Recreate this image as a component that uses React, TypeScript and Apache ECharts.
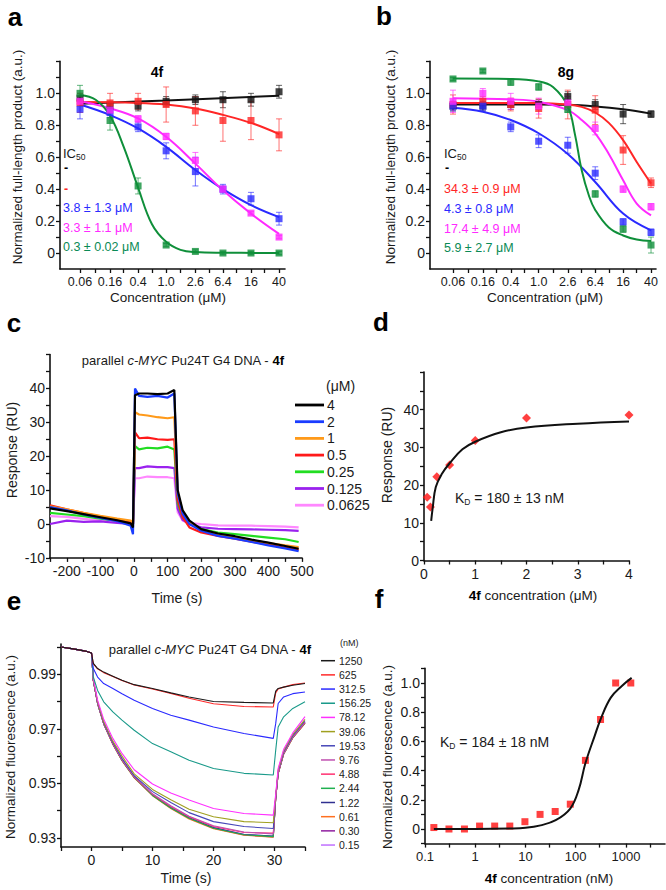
import React, { useEffect, useRef } from 'react';
import * as echarts from 'echarts';

const FONT = '"Liberation Sans", Arial, Helvetica, sans-serif';
const AX = '#111111';
const TXT = '#1a1a1a';

// ---------- panels a & b (shared concentrations) ----------
const CONC_AB = [0.06, 0.16, 0.4, 1.0, 2.6, 6.4, 16, 40];
const CONC_AB_LABELS = ['0.06', '0.16', '0.4', '1.0', '2.6', '6.4', '16', '40'];
const AB_TICKS = [0.06, 0.1, 0.16, 0.25, 0.4, 0.63, 1, 1.6, 2.6, 4.1, 6.4, 10, 16, 25, 40];
const AB_Y_LABELS = [0, 0.2, 0.4, 0.6, 0.8, 1.0];
const AB_Y_TICKS = [0, 0.1, 0.2, 0.3, 0.4, 0.5, 0.6, 0.7, 0.8, 0.9, 1.0, 1.1, 1.2];

const A_BLACK = [0.97, 0.92, 0.92, 0.95, 0.96, 0.96, 0.96, 1.01];
const A_RED = [0.94, 0.94, 0.95, 0.93, 0.89, 0.83, 0.83, 0.74];
const A_BLUE = [0.9, 0.88, 0.79, 0.64, 0.51, 0.4, 0.34, 0.215];
const A_MAG = [0.95, 0.895, 0.84, 0.73, 0.58, 0.4, 0.25, 0.1];
const A_GREEN = [1.0, 0.83, 0.42, 0.05, 0.01, 0.0, 0.0, 0.0];
const A_BLACK_ERR = [0.03, 0.03, 0.03, 0.03, 0.03, 0.05, 0.04, 0.04];
const A_RED_ERR = [0.06, 0.06, 0.05, 0.11, 0.09, 0.13, 0.12, 0.1];
const A_BLUE_ERR = [0.06, 0.03, 0.03, 0.05, 0.09, 0.03, 0.04, 0.04];
const A_MAG_ERR = [0.03, 0.02, 0.02, 0.02, 0.05, 0.02, 0.01, 0.01];
const A_GREEN_ERR = [0.05, 0.06, 0.05, 0.01, 0.01, 0.01, 0.01, 0.01];
const A_BLACK_FIT = [[0.06, 0.935], [1, 0.955], [40, 0.985]];
const A_RED_FIT = [[0.06, 0.945], [0.4, 0.94], [1, 0.93], [2.6, 0.905], [6.4, 0.865], [16, 0.815], [40, 0.745]];
const A_BLUE_FIT = [[0.06, 0.93], [0.16, 0.864], [0.4, 0.78], [1, 0.665], [2.6, 0.52], [6.4, 0.4], [16, 0.3], [40, 0.225]];
const A_MAG_FIT = [[0.06, 0.95], [0.16, 0.906], [0.4, 0.843], [1, 0.728], [2.6, 0.56], [6.4, 0.393], [16, 0.247], [40, 0.12]];
const A_GREEN_FIT = [[0.06, 0.99], [0.1, 0.96], [0.16, 0.86], [0.25, 0.665], [0.4, 0.41], [0.63, 0.18], [1, 0.07], [1.6, 0.02], [2.6, 0.006], [6.4, 0.002], [40, 0.0]];

const B_BLACK = [0.92, 0.92, 0.93, 0.93, 0.98, 0.93, 0.87, 0.87];
const B_RED = [0.93, 0.95, 0.93, 0.905, 0.93, 0.895, 0.645, 0.44];
const B_BLUE = [0.92, 0.92, 0.79, 0.7, 0.675, 0.5, 0.195, 0.13];
const B_MAG = [0.95, 1.0, 0.95, 0.92, 0.94, 0.78, 0.4, 0.29];
const B_GREEN = [1.09, 1.14, 1.07, 1.04, 0.9, 0.37, 0.15, 0.05];
const B_BLACK_ERR = [0.03, 0.03, 0.03, 0.03, 0.03, 0.03, 0.06, 0.02];
const B_RED_ERR = [0.06, 0.03, 0.04, 0.06, 0.09, 0.09, 0.09, 0.03];
const B_BLUE_ERR = [0.03, 0.03, 0.03, 0.04, 0.05, 0.04, 0.02, 0.02];
const B_MAG_ERR = [0.07, 0.03, 0.05, 0.05, 0.04, 0.04, 0.02, 0.02];
const B_GREEN_ERR = [0.01, 0.01, 0.02, 0.02, 0.02, 0.02, 0.02, 0.05];
const B_BLACK_FIT = [[0.06, 0.93], [1, 0.93], [2.6, 0.928], [6.4, 0.918], [16, 0.9], [40, 0.873]];
const B_RED_FIT = [[0.06, 0.94], [1, 0.94], [2.6, 0.93], [4.1, 0.915], [6.4, 0.88], [10, 0.815], [16, 0.707], [25, 0.57], [40, 0.435]];
const B_BLUE_FIT = [[0.06, 0.91], [0.16, 0.885], [0.4, 0.833], [1, 0.75], [2.6, 0.62], [6.4, 0.445], [16, 0.247], [40, 0.142]];
const B_MAG_FIT = [[0.06, 0.97], [0.4, 0.962], [1, 0.948], [2.6, 0.895], [4.1, 0.833], [6.4, 0.75], [10, 0.62], [16, 0.456], [25, 0.31], [40, 0.236]];
const B_GREEN_FIT = [[0.06, 1.093], [0.4, 1.09], [1, 1.075], [1.6, 1.04], [2.6, 0.92], [3.3, 0.74], [4.1, 0.52], [5.2, 0.36], [6.4, 0.27], [10, 0.16], [16, 0.11], [25, 0.085], [40, 0.075]];

// ---------- panel c (SPR sensorgrams) ----------
const C_TIME = [-250, -200, -150, -100, -50, -10, -3, 3, 15, 40, 70, 100, 120, 130, 145, 165, 200, 250, 300, 350, 400, 450, 490];
const C_4 = [4.6, 3.8, 2.9, 2.0, 1.1, 0.2, -1, 38, 38.5, 38.5, 38.3, 38.5, 39.5, 10, 4, 1, -1.5, -2.8, -3.6, -4.6, -5.5, -6.5, -7.3];
const C_2 = [5, 4, 2.8, 1.8, 0.8, -0.5, -3, 40, 37.8, 37.5, 37.8, 37.3, 38.5, 9, 3, 0, -2, -3.5, -4.3, -5.3, -6.3, -7.2, -8];
const C_1 = [5.2, 4.3, 3.3, 2.4, 1.6, 1, 0.5, 33, 32.3, 32, 31.5, 31.2, 31.5, 9, 3.5, 0.5, -1.8, -3, -3.8, -4.8, -5.6, -6.3, -6.8];
const C_05 = [5.5, 4.3, 3.2, 2.2, 1.3, 0.5, 0, 27, 25.3, 25.5, 25, 24.8, 25, 7, 2, -1, -2.5, -3.5, -4.3, -5.2, -6, -7, -7.5];
const C_025 = [3.3, 2.8, 2.3, 1.6, 1, 0.5, 0, 23, 22, 22.5, 22.3, 22.8, 22, 6, 2, 0, -1.5, -2.5, -3, -3.5, -4, -4.5, -5.3];
const C_0125 = [0, 1, 0.6, 0.8, 0.3, 0, 0, 16.5, 16.5, 17, 16.8, 16.8, 16.5, 4.5, 1.2, 0, -1, -1.4, -1.5, -1.6, -1.7, -1.8, -2];
const C_00625 = [2.3, 2.1, 1.5, 1, 0.6, 0.2, 0, 13.5, 13.5, 14, 13.8, 13.8, 13.5, 3.5, 1, 0.3, 0, -0.4, -0.5, -0.5, -0.6, -0.8, -1];
const C_LABELS = ['4', '2', '1', '0.5', '0.25', '0.125', '0.0625'];
const C_COLORS = ['#000000', '#1a3cff', '#ff9a1a', '#ff1a1a', '#22dd22', '#9a22ee', '#ff88ff'];

// ---------- panel d ----------
const D_CONC = [0.0625, 0.125, 0.25, 0.5, 1, 2, 4];
const D_RESP = [16.8, 14.2, 22.2, 25.3, 31.8, 37.8, 38.6];
const D_FIT = [[0.14, 10.5], [0.17, 14], [0.23, 19.5], [0.35, 23], [0.5, 25.8], [0.75, 29.5], [1, 31.5], [1.5, 34], [2, 35.3], [3, 36.3], [4, 36.9]];

// ---------- panel e (fluorescence kinetics) ----------
const E_TIME = [-5, -3, -1, 0, 0.3, 1, 2, 3.5, 5, 7, 10, 13, 16, 20, 25, 29.8, 30.2, 30.6, 31.5, 33, 35];
const E_BASE = [1.0, 0.9993, 0.9985, 0.9978];
const E_1250 = [0.994, 0.9921, 0.9908, 0.9893, 0.9878, 0.9862, 0.9848, 0.9832, 0.9817, 0.98, 0.9797, 0.9795, 0.9838, 0.9848, 0.9853, 0.986, 0.9866];
const E_625 = [0.9938, 0.992, 0.9906, 0.9892, 0.9877, 0.9861, 0.9846, 0.983, 0.9812, 0.9792, 0.9782, 0.978, 0.9832, 0.9846, 0.9853, 0.9862, 0.9868];
const E_312 = [0.9921, 0.989, 0.9866, 0.9848, 0.9829, 0.9805, 0.9775, 0.975, 0.9732, 0.9707, 0.9683, 0.9665, 0.972, 0.9793, 0.9817, 0.9829, 0.9835];
const E_156 = [0.989, 0.9841, 0.9799, 0.9762, 0.9732, 0.9695, 0.9646, 0.9616, 0.9585, 0.9555, 0.9537, 0.9531, 0.9622, 0.9707, 0.9744, 0.9775, 0.9799];
const E_78 = [0.9885, 0.9805, 0.9735, 0.9665, 0.961, 0.955, 0.9498, 0.9465, 0.9439, 0.9408, 0.939, 0.9384, 0.946, 0.9555, 0.9625, 0.9685, 0.9745];
const E_39 = [0.988, 0.98, 0.9727, 0.9655, 0.96, 0.9535, 0.9478, 0.944, 0.9405, 0.9378, 0.936, 0.9356, 0.9455, 0.955, 0.962, 0.968, 0.9735];
const E_19 = [0.9878, 0.9796, 0.9722, 0.965, 0.9592, 0.9528, 0.947, 0.943, 0.9393, 0.936, 0.9342, 0.9335, 0.945, 0.9545, 0.9615, 0.9675, 0.973];
const E_9 = [0.9878, 0.9793, 0.972, 0.9646, 0.9587, 0.9525, 0.9462, 0.9418, 0.938, 0.9345, 0.9322, 0.9315, 0.9448, 0.954, 0.961, 0.967, 0.9725];
const E_4 = [0.9877, 0.9793, 0.9719, 0.9645, 0.9586, 0.9524, 0.946, 0.9415, 0.9378, 0.9342, 0.932, 0.9318, 0.9448, 0.9538, 0.961, 0.967, 0.9723];
const E_2 = [0.9877, 0.9792, 0.9718, 0.9644, 0.9584, 0.9522, 0.9456, 0.941, 0.9372, 0.9336, 0.9312, 0.9305, 0.9447, 0.9537, 0.9608, 0.9668, 0.9722];
const E_1 = [0.9878, 0.9793, 0.9719, 0.9645, 0.9585, 0.9523, 0.9458, 0.9412, 0.9374, 0.9338, 0.9313, 0.9307, 0.9447, 0.9537, 0.961, 0.967, 0.9724];
const E_06 = [0.9877, 0.9792, 0.9718, 0.9643, 0.9583, 0.952, 0.9455, 0.9408, 0.937, 0.9334, 0.931, 0.9303, 0.9445, 0.9535, 0.9607, 0.9667, 0.972];
const E_03 = [0.9878, 0.9794, 0.972, 0.9646, 0.9585, 0.9523, 0.9457, 0.941, 0.9372, 0.9336, 0.9311, 0.9304, 0.9446, 0.9536, 0.9608, 0.9668, 0.9721];
const E_015 = [0.9879, 0.9795, 0.9721, 0.9647, 0.9587, 0.9525, 0.946, 0.9413, 0.9375, 0.9339, 0.9314, 0.9306, 0.9446, 0.9537, 0.9609, 0.967, 0.9722];
const E_LABELS = ['1250', '625', '312.5', '156.25', '78.12', '39.06', '19.53', '9.76', '4.88', '2.44', '1.22', '0.61', '0.30', '0.15'];
const E_COLORS = ['#1a1a1a', '#ff2a2a', '#2a2aff', '#1a9a8a', '#ff30ff', '#a0a020', '#4848b8', '#c050b0', '#ff3070', '#20b050', '#303090', '#ff7020', '#9020a0', '#c070ff'];

// ---------- panel f ----------
const F_CONC = [0.15, 0.3, 0.61, 1.22, 2.44, 4.88, 9.76, 19.53, 39.06, 78.12, 156.25, 312.5, 625, 1250];
const F_VAL = [0.01, 0.0, 0.0, 0.02, 0.02, 0.02, 0.05, 0.1, 0.12, 0.17, 0.47, 0.75, 1.0, 1.0];
const F_FIT = [[0.15, 0.0], [1, 0.0], [5, 0.003], [10, 0.008], [20, 0.025], [40, 0.06], [78, 0.14], [115, 0.27], [156, 0.45], [240, 0.64], [320, 0.76], [500, 0.9], [830, 0.98], [1300, 1.035]];

const BLACK = '#111111';
const RED = '#ff2626';
const BLUE = '#2a2aff';
const MAG = '#ff2aff';
const GREEN = '#0f8f3a';

function mkAxis(gridIndex: number, type: string, min: number, max: number, ticks: number[], labels: number[], fmt: (v: number) => string, fontSize = 14, margin = 5) {
  const ax: any = {
    type, gridIndex, min, max,
    axisLine: { show: true, onZero: false, lineStyle: { color: AX, width: 1.6 } },
    axisTick: { show: true, customValues: ticks, length: 4, lineStyle: { color: AX, width: 1.3 } },
    axisLabel: { show: true, customValues: labels, formatter: fmt, color: TXT, fontFamily: FONT, fontSize, margin },
    splitLine: { show: false },
  };
  if (type === 'log') ax.logBase = 10;
  return ax;
}

const fmtAB = (v: number) => {
  for (let i = 0; i < CONC_AB.length; i++) {
    if (Math.abs(Math.log10(v) - Math.log10(CONC_AB[i])) < 0.01) return CONC_AB_LABELS[i];
  }
  return '';
};
const fmtFrac = (v: number) => (Math.abs(v) < 1e-9 ? '0' : v.toFixed(1));

function errSeries(ax: number, vals: number[], errs: number[], color: string) {
  return {
    type: 'custom', xAxisIndex: ax, yAxisIndex: ax, silent: true, z: 2,
    data: CONC_AB.map((c, i) => [c, vals[i], errs[i]]),
    renderItem: (_p: any, api: any) => {
      const x = api.value(0), y = api.value(1), e = api.value(2);
      const t = api.coord([x, y + e]);
      const b = api.coord([x, y - e]);
      const w = 3;
      const style = { stroke: color, lineWidth: 1, opacity: 0.65 };
      return {
        type: 'group',
        children: [
          { type: 'line', shape: { x1: t[0], y1: t[1], x2: b[0], y2: b[1] }, style },
          { type: 'line', shape: { x1: t[0] - w, y1: t[1], x2: t[0] + w, y2: t[1] }, style },
          { type: 'line', shape: { x1: b[0] - w, y1: b[1], x2: b[0] + w, y2: b[1] }, style },
        ],
      };
    },
  };
}

function abSeries(ax: number, sets: [number[], number[], number[][], string][]) {
  const out: any[] = [];
  sets.forEach(([vals, errs, fit, color]) => {
    out.push(errSeries(ax, vals, errs, color));
    out.push({ type: 'line', xAxisIndex: ax, yAxisIndex: ax, data: fit, smooth: 0.4, showSymbol: false, symbol: 'none', lineStyle: { color, width: 2 }, z: 3, silent: true });
    out.push({ type: 'scatter', xAxisIndex: ax, yAxisIndex: ax, data: CONC_AB.map((c, i) => [c, vals[i]]), symbol: 'rect', symbolSize: 7, itemStyle: { color }, z: 4, silent: true });
  });
  return out;
}

function txt(x: number, y: number, text: string, o: any = {}) {
  const { rotation, ...style } = o;
  const el: any = {
    type: 'text', x, y, silent: true,
    style: { text, fill: TXT, fontFamily: FONT, fontSize: 13, align: 'center', verticalAlign: 'middle', textAlign: 'center', textVerticalAlign: 'middle', ...style },
  };
  if (style.align) el.style.textAlign = style.align;
  if (style.verticalAlign) el.style.textVerticalAlign = style.verticalAlign;
  if (rotation !== undefined) el.rotation = rotation;
  return el;
}

function buildOption() {
  const grid = [
    { left: 60, top: 61.4, width: 225, height: 207.6 },
    { left: 430, top: 61.4, width: 226, height: 207.6 },
    { left: 50, top: 354.5, width: 252, height: 203.4 },
    { left: 424, top: 372, width: 205, height: 188.5 },
    { left: 61, top: 644, width: 244, height: 203 },
    { left: 425, top: 668.4, width: 240, height: 175.2 },
  ];
  const xAxis = [
    mkAxis(0, 'log', 0.0312, 48.6, AB_TICKS, CONC_AB, fmtAB, 12.5, 6),
    mkAxis(1, 'log', 0.0282, 47.1, AB_TICKS, CONC_AB, fmtAB, 12.5, 6),
    mkAxis(2, 'value', -250, 500, [-250, -200, -150, -100, -50, 0, 50, 100, 150, 200, 250, 300, 350, 400, 450, 500], [-200, -100, 0, 100, 200, 300, 400, 500], (v) => String(v), 14, 6),
    mkAxis(3, 'value', 0, 4, [0, 0.5, 1, 1.5, 2, 2.5, 3, 3.5, 4], [0, 1, 2, 3, 4], (v) => String(v), 14, 6),
    mkAxis(4, 'value', -5, 35, [-5, 0, 5, 10, 15, 20, 25, 30, 35], [0, 10, 20, 30], (v) => String(v), 14, 6),
    mkAxis(5, 'log', 0.1, 6000, [0.1, 0.3, 1, 3, 10, 30, 100, 300, 1000, 3000], [0.1, 1, 10, 100, 1000], (v) => (v < 1 ? '0.1' : String(Math.round(v))), 13, 6),
  ];
  const yAxis = [
    mkAxis(0, 'value', -0.1, 1.2, AB_Y_TICKS, AB_Y_LABELS, fmtFrac, 14, 5),
    mkAxis(1, 'value', -0.1, 1.2, AB_Y_TICKS, AB_Y_LABELS, fmtFrac, 14, 5),
    mkAxis(2, 'value', -10, 50, [-10, -5, 0, 5, 10, 15, 20, 25, 30, 35, 40, 45, 50], [-10, 0, 10, 20, 30, 40], (v) => String(v), 14, 5),
    mkAxis(3, 'value', 0, 50, [0, 5, 10, 15, 20, 25, 30, 35, 40, 45, 50], [0, 10, 20, 30, 40], (v) => String(v), 14, 5),
    mkAxis(4, 'value', 0.9267, 1.0011, [0.93, 0.94, 0.95, 0.96, 0.97, 0.98, 0.99, 1.0], [0.93, 0.95, 0.97, 0.99], (v) => v.toFixed(2), 14, 5),
    mkAxis(5, 'value', -0.1, 1.1, [-0.1, 0, 0.1, 0.2, 0.3, 0.4, 0.5, 0.6, 0.7, 0.8, 0.9, 1.0, 1.1], [0, 0.2, 0.4, 0.6, 0.8, 1.0], fmtFrac, 14, 5),
  ];

  const series: any[] = [];
  series.push(...abSeries(0, [
    [A_BLACK, A_BLACK_ERR, A_BLACK_FIT, BLACK],
    [A_RED, A_RED_ERR, A_RED_FIT, RED],
    [A_BLUE, A_BLUE_ERR, A_BLUE_FIT, BLUE],
    [A_MAG, A_MAG_ERR, A_MAG_FIT, MAG],
    [A_GREEN, A_GREEN_ERR, A_GREEN_FIT, GREEN],
  ]));
  series.push(...abSeries(1, [
    [B_BLACK, B_BLACK_ERR, B_BLACK_FIT, BLACK],
    [B_RED, B_RED_ERR, B_RED_FIT, RED],
    [B_BLUE, B_BLUE_ERR, B_BLUE_FIT, BLUE],
    [B_MAG, B_MAG_ERR, B_MAG_FIT, MAG],
    [B_GREEN, B_GREEN_ERR, B_GREEN_FIT, GREEN],
  ]));

  const cSets = [C_4, C_2, C_1, C_05, C_025, C_0125, C_00625];
  // draw lower concentrations first so the high ones sit on top
  cSets.map((vals, i) => ({ vals, i })).reverse().forEach(({ vals, i }) => {
    series.push({ type: 'line', xAxisIndex: 2, yAxisIndex: 2, data: C_TIME.map((t, k) => [t, vals[k]]), showSymbol: false, symbol: 'none', lineStyle: { color: C_COLORS[i], width: 2.2 }, silent: true });
  });

  series.push({ type: 'line', xAxisIndex: 3, yAxisIndex: 3, data: D_FIT, smooth: 0.4, showSymbol: false, symbol: 'none', lineStyle: { color: '#111', width: 2 }, silent: true });
  series.push({ type: 'scatter', xAxisIndex: 3, yAxisIndex: 3, data: D_CONC.map((c, i) => [c, D_RESP[i]]), symbol: 'diamond', symbolSize: 9, itemStyle: { color: '#ff1010' }, silent: true });

  const eSets = [E_1250, E_625, E_312, E_156, E_78, E_39, E_19, E_9, E_4, E_2, E_1, E_06, E_03, E_015];
  eSets.map((vals, i) => ({ vals, i })).reverse().forEach(({ vals, i }) => {
    const full = [...E_BASE, ...vals];
    series.push({ type: 'line', xAxisIndex: 4, yAxisIndex: 4, data: E_TIME.map((t, k) => [t, full[k]]), showSymbol: false, symbol: 'none', lineStyle: { color: E_COLORS[i], width: 1.1 }, silent: true });
  });

  series.push({ type: 'line', xAxisIndex: 5, yAxisIndex: 5, data: F_FIT, smooth: 0.4, showSymbol: false, symbol: 'none', lineStyle: { color: '#111', width: 2 }, silent: true });
  series.push({ type: 'scatter', xAxisIndex: 5, yAxisIndex: 5, data: F_CONC.map((c, i) => [c, F_VAL[i]]), symbol: 'rect', symbolSize: 7, itemStyle: { color: '#ff1010' }, silent: true });

  const g: any[] = [];
  const letter = { fontSize: 26, fontWeight: 'bold', fill: '#000' };
  g.push(txt(15, 17, 'a', letter));
  g.push(txt(384, 16, 'b', letter));
  g.push(txt(14, 323, 'c', letter));
  g.push(txt(381, 322, 'd', letter));
  g.push(txt(14, 601, 'e', letter));
  g.push(txt(379, 599, 'f', letter));

  // a / b
  const ytitleAB = 'Normalized full-length product (a.u.)';
  g.push(txt(17, 157, ytitleAB, { rotation: Math.PI / 2, fontSize: 13.5 }));
  g.push(txt(390, 157, ytitleAB, { rotation: Math.PI / 2, fontSize: 13.5 }));
  g.push(txt(168, 297, 'Concentration (μM)', { fontSize: 13.5 }));
  g.push(txt(545, 297, 'Concentration (μM)', { fontSize: 13.5 }));
  g.push(txt(157, 72, '4f', { fontSize: 14, fontWeight: 'bold', fill: '#000' }));
  g.push(txt(566, 72, '8g', { fontSize: 14, fontWeight: 'bold', fill: '#000' }));
  const icRich = { m: { fontSize: 13, fontFamily: FONT, fill: TXT }, s: { fontSize: 8.5, fontFamily: FONT, fill: TXT, padding: [7, 0, 0, 0] } };
  const icL = { align: 'left', fontSize: 12.5 };
  g.push(txt(63, 153, '{m|IC}{s|50}', { align: 'left', rich: icRich }));
  g.push(txt(64, 168, '-', { ...icL, fill: '#000', fontWeight: 'bold' }));
  g.push(txt(64, 189, '-', { ...icL, fill: RED, fontWeight: 'bold' }));
  g.push(txt(63, 208, '3.8 ± 1.3 μM', { ...icL, fill: BLUE }));
  g.push(txt(63, 228, '3.3 ± 1.1 μM', { ...icL, fill: MAG }));
  g.push(txt(63, 247, '0.3 ± 0.02 μM', { ...icL, fill: '#0a8a55' }));
  g.push(txt(444, 153, '{m|IC}{s|50}', { align: 'left', rich: icRich }));
  g.push(txt(445, 168, '-', { ...icL, fill: '#000', fontWeight: 'bold' }));
  g.push(txt(444, 189, '34.3 ± 0.9 μM', { ...icL, fill: RED }));
  g.push(txt(444, 209, '4.3 ± 0.8 μM', { ...icL, fill: BLUE }));
  g.push(txt(444, 229, '17.4 ± 4.9 μM', { ...icL, fill: MAG }));
  g.push(txt(444, 248, '5.9 ± 2.7 μM', { ...icL, fill: '#0a8a55' }));

  // c
  const titleRich = { n: { fontSize: 13, fontFamily: FONT, fill: TXT }, i: { fontSize: 13, fontFamily: FONT, fontStyle: 'italic', fill: TXT }, b: { fontSize: 13, fontFamily: FONT, fontWeight: 'bold', fill: '#000' } };
  g.push(txt(183, 360, '{n|parallel }{i|c-MYC}{n| Pu24T G4 DNA - }{b|4f}', { rich: titleRich }));
  g.push(txt(12, 450, 'Response (RU)', { rotation: Math.PI / 2, fontSize: 14 }));
  g.push(txt(177, 598, 'Time (s)', { fontSize: 14 }));
  g.push(txt(326, 386, '(μM)', { align: 'left', fontSize: 14 }));
  C_LABELS.forEach((lab, i) => {
    const y = 405 + i * 16.7;
    g.push({ type: 'line', silent: true, shape: { x1: 295, y1: y, x2: 324, y2: y }, style: { stroke: C_COLORS[i], lineWidth: 2.8 } });
    g.push(txt(327, y, lab, { align: 'left', fontSize: 14 }));
  });

  // d
  g.push(txt(387, 455, 'Response (RU)', { rotation: Math.PI / 2, fontSize: 14 }));
  const axRich = { b: { fontSize: 13.5, fontFamily: FONT, fontWeight: 'bold', fill: '#000' }, n: { fontSize: 13.5, fontFamily: FONT, fill: TXT } };
  g.push(txt(533, 595, '{b|4f}{n| concentration (μM)}', { rich: axRich }));
  const kdRich = { m: { fontSize: 14, fontFamily: FONT, fill: TXT }, s: { fontSize: 8.5, fontFamily: FONT, fill: TXT, padding: [8, 0, 0, 0] } };
  g.push(txt(455, 498, '{m|K}{s|D}{m| = 180 ± 13 nM}', { align: 'left', rich: kdRich }));

  // e
  g.push(txt(210, 649, '{n|parallel }{i|c-MYC}{n| Pu24T G4 DNA - }{b|4f}', { rich: titleRich }));
  g.push(txt(10, 747, 'Normalized fluorescence (a.u.)', { rotation: Math.PI / 2, fontSize: 13.5 }));
  g.push(txt(186, 878, 'Time (s)', { fontSize: 14 }));
  g.push(txt(340, 643, '(nM)', { align: 'left', fontSize: 9 }));
  E_LABELS.forEach((lab, i) => {
    const y = 660.7 + i * 14.18;
    g.push({ type: 'line', silent: true, shape: { x1: 321, y1: y, x2: 335, y2: y }, style: { stroke: E_COLORS[i], lineWidth: 1.5 } });
    g.push(txt(339, y, lab, { align: 'left', fontSize: 10.5 }));
  });

  // f
  g.push(txt(387, 757, 'Normalized fluorescence (a.u.)', { rotation: Math.PI / 2, fontSize: 13.5 }));
  g.push(txt(549, 878, '{b|4f}{n| concentration (nM)}', { rich: axRich }));
  g.push(txt(440, 742, '{m|K}{s|D}{m| = 184 ± 18 nM}', { align: 'left', rich: kdRich }));

  return {
    animation: false,
    backgroundColor: '#ffffff',
    grid, xAxis, yAxis, series,
    graphic: { elements: g },
  };
}

export default function App() {
  const ref = useRef<HTMLDivElement>(null);
  useEffect(() => {
    if (!ref.current) return;
    const chart = echarts.init(ref.current, undefined, { renderer: 'svg' });
    chart.setOption(buildOption() as any);
    return () => chart.dispose();
  }, []);
  return <div ref={ref} style={{ position: 'absolute', left: 0, top: 0, width: 666, height: 890, background: '#fff' }} />;
}
